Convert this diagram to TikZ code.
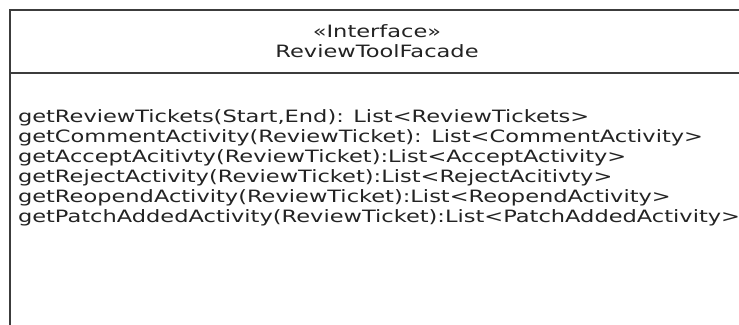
\documentclass[tikz,border=0pt]{standalone}
\usepackage{fontspec}
\setmainfont{DejaVu Sans}[FakeStretch=1.325]
\definecolor{umlink}{RGB}{35,35,35}
\definecolor{umlline}{RGB}{60,60,60}
\begin{document}
\begin{tikzpicture}[x=1pt,y=-1pt,
  umltext/.style={inner sep=0pt, outer sep=0pt, text=umlink,
    font=\fontsize{17pt}{20pt}\selectfont},
  member/.style={umltext, anchor=base west},
  title/.style={umltext, anchor=base},
  frame/.style={draw=umlline, line width=1.6pt}]
  \clip (0,0) rectangle (739,324);
  % class box (its right and bottom edges lie beyond the visible area)
  \draw[frame] (10,10) rectangle (745,340);
  \draw[frame] (10,72.7) -- (745,72.7);
  % header
  \node[title] (stereo) at (377,37.7) {«Interface»};
  \node[title] (cname) at (377,57.7) {ReviewToolFacade};
  % operations
  \node[member] (m1) at (18,122.3) {getReviewTickets(Start,End): List<ReviewTickets>};
  \node[member] (m2) at (18,142.3) {getCommentActivity(ReviewTicket): List<CommentActivity>};
  \node[member] (m3) at (18,162.3) {getAcceptAcitivty(ReviewTicket):List<AcceptActivity>};
  \node[member] (m4) at (18,182.3) {getRejectActivity(ReviewTicket):List<RejectAcitivty>};
  \node[member] (m5) at (18,202.3) {getReopendActivity(ReviewTicket):List<ReopendActivity>};
  \node[member] (m6) at (18,222.3) {getPatchAddedActivity(ReviewTicket):List<PatchAddedActivity>};
\end{tikzpicture}
\end{document}
